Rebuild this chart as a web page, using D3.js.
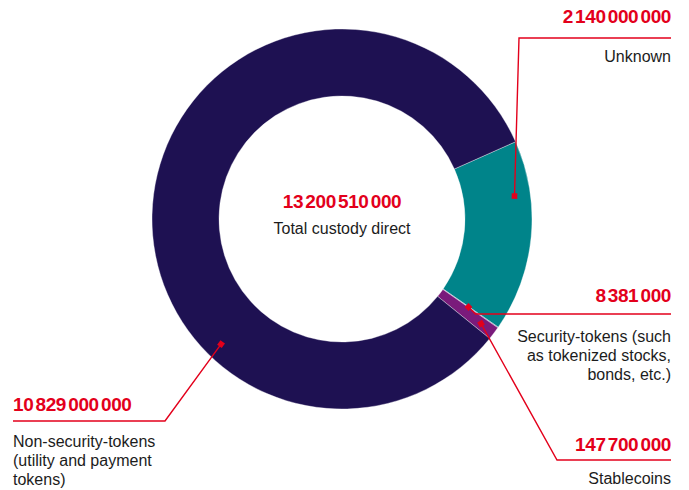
<!DOCTYPE html>
<html>
<head>
<meta charset="utf-8">
<script src="https://cdn.jsdelivr.net/npm/d3@7"></script>
<style>
  html, body { margin: 0; padding: 0; background: #ffffff; }
  svg { display: block; }
  text { font-family: "Liberation Sans", Arial, Helvetica, sans-serif; }
</style>
</head>
<body>
<svg id="chart" width="689" height="490"></svg>
<script>
// Custody holdings by token type
const categories = ["Unknown", "Security-tokens", "Stablecoins", "Non-security-tokens"];
const values = [2140000000, 8381000, 147700000, 10829000000];
const labelLines = [
  ["Unknown"],
  ["Security-tokens (such", "as tokenized stocks,", "bonds, etc.)"],
  ["Stablecoins"],
  ["Non-security-tokens", "(utility and payment", "tokens)"]
];
const totalValue = 13200510000;
const totalLabel = "Total custody direct";

// ---- styling and layout ----
const W = 689, H = 490;
const cx = 342, cy = 219;
const outerR = 190, innerR = 123;
const START_DEG = 66;
const RED = "#e3001b";
const TEXT = "#1c1c1c";

const color = d3.scaleOrdinal()
  .domain(categories)
  .range(["#00848a", "#5b5a8e", "#7a1b7b", "#1e1152"]);

// annotation placement for each category
const annot = {
  "Unknown":             { anchor: "end",   x: 671, valueY: 22.7, lineY: 38,  textY: 62,  elbowX: 519,  frac: 0.28, r: 174 },
  "Security-tokens":     { anchor: "end",   x: 671, valueY: 301.7, lineY: 314, textY: 341.7, elbowX: null, frac: 0.5, r: 154 },
  "Stablecoins":         { anchor: "end",   x: 671, valueY: 451, lineY: 460, textY: 484, elbowX: 557,  frac: 0.5, r: 174 },
  "Non-security-tokens": { anchor: "start", x: 13,  valueY: 411, lineY: 421, textY: 447, elbowX: 165,  frac: 0.32, r: 174 }
};
const lineGap = 19.2;

const svg = d3.select("#chart");
const g = svg.append("g");

const pie = d3.pie()
  .sort(null)
  .value(d => d.value)
  .startAngle(START_DEG * Math.PI / 180)
  .endAngle(START_DEG * Math.PI / 180 + 2 * Math.PI);

const data = categories.map((c, i) => ({ category: c, value: values[i], lines: labelLines[i] }));
const arcs = pie(data);

const arc = d3.arc().innerRadius(innerR).outerRadius(outerR);

g.append("g")
  .attr("transform", `translate(${cx},${cy})`)
  .selectAll("path")
  .data(arcs)
  .join("path")
  .attr("d", arc)
  .attr("fill", d => color(d.data.category))
  .attr("stroke", "#ffffff")
  .attr("stroke-width", 0.6)
  .attr("stroke-opacity", 0.6);

// number formatting with grouped digits
const fmt = d3.format(",");
function groups(v) { return fmt(v).split(","); }

function drawNumber(parent, v, x, y, anchor) {
  const t = parent.append("text")
    .attr("x", x).attr("y", y)
    .attr("text-anchor", anchor)
    .attr("fill", RED)
    .attr("font-weight", "bold")
    .attr("font-size", 19)
    .attr("letter-spacing", -0.4);
  groups(v).forEach((grp, i) => {
    t.append("tspan").attr("dx", i === 0 ? 0 : 2.2).text(grp);
  });
  return t;
}

// centre total
drawNumber(g, totalValue, cx, 208, "middle");
g.append("text")
  .attr("x", cx).attr("y", 234.3)
  .attr("text-anchor", "middle")
  .attr("fill", TEXT)
  .attr("font-size", 16)
  .text(totalLabel);

// annotations
const ann = g.append("g");
arcs.forEach(d => {
  const a = annot[d.data.category];
  const ang = d.startAngle + a.frac * (d.endAngle - d.startAngle);
  const px = cx + a.r * Math.sin(ang);
  const py = cy - a.r * Math.cos(ang);
  const ex = a.elbowX !== null ? a.elbowX : px + Math.abs(a.lineY - py);

  ann.append("path")
    .attr("d", `M${a.x},${a.lineY}H${ex}L${px},${py}`)
    .attr("fill", "none")
    .attr("stroke", RED)
    .attr("stroke-width", 1.4);

  const rot = Math.atan2(py - a.lineY, px - ex) * 180 / Math.PI;
  ann.append("rect")
    .attr("x", -2.8).attr("y", -2.8)
    .attr("width", 5.6).attr("height", 5.6)
    .attr("fill", RED)
    .attr("transform", `translate(${px},${py}) rotate(${rot})`);

  drawNumber(ann, d.data.value, a.x, a.valueY, a.anchor);

  ann.append("g")
    .selectAll("text")
    .data(d.data.lines)
    .join("text")
    .attr("x", a.x)
    .attr("y", (s, i) => a.textY + i * lineGap)
    .attr("text-anchor", a.anchor)
    .attr("fill", TEXT)
    .attr("font-size", 16)
    .text(s => s);
});
</script>
</body>
</html>
